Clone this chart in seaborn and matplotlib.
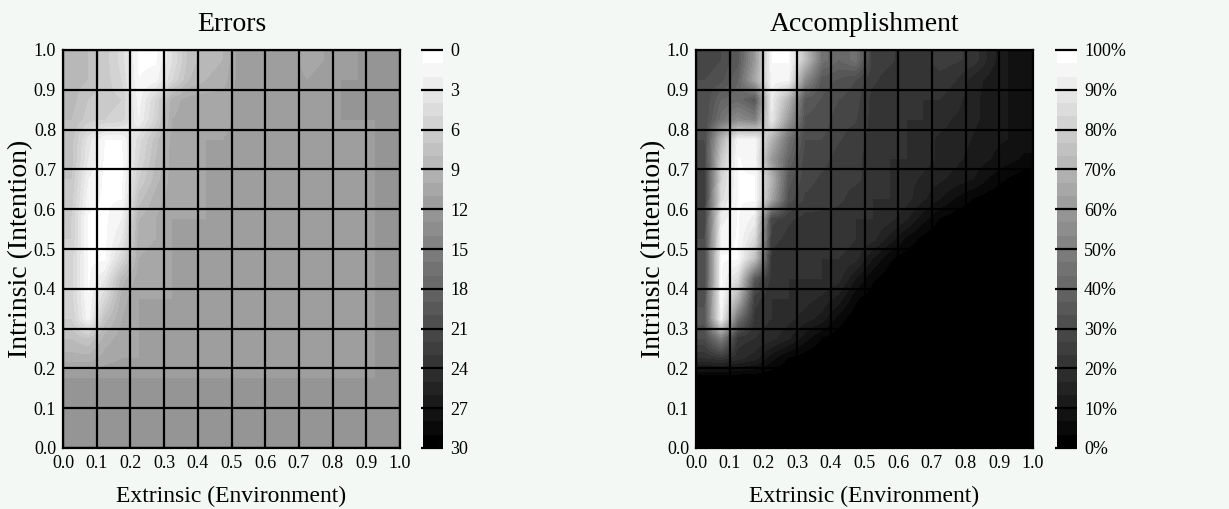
import numpy as np
import matplotlib
matplotlib.use("Agg")
import matplotlib.pyplot as plt
import seaborn as sns

# ---------------- data ----------------
axis_ticks = [0.0, 0.1, 0.2, 0.3, 0.4, 0.5, 0.6, 0.7, 0.8, 0.9, 1.0]
axis_labels = ["0.0", "0.1", "0.2", "0.3", "0.4", "0.5", "0.6", "0.7", "0.8", "0.9", "1.0"]
x_label = "Extrinsic (Environment)"
y_label = "Intrinsic (Intention)"
titles = ["Errors", "Accomplishment"]

err_ticks = [0, 3, 6, 9, 12, 15, 18, 21, 24, 27, 30]
err_tick_labels = ["0", "3", "6", "9", "12", "15", "18", "21", "24", "27", "30"]
acc_ticks = [0, 10, 20, 30, 40, 50, 60, 70, 80, 90, 100]
acc_tick_labels = ["0%", "10%", "20%", "30%", "40%", "50%", "60%", "70%", "80%", "90%", "100%"]

# Errors: rows from intrinsic 1.0 (top) to 0.0 (bottom), 0.05 steps; columns extrinsic 0.0 -> 1.0
errors = np.array([
    [8.5, 8.0, 6.5, 4.5, 0.8, 0.8, 4.0, 7.5, 8.5, 9.0, 11.5, 11.5, 11.5, 11.5, 10.5, 11.0, 11.5, 12.0, 12.5, 12.5],
    [8.5, 8.0, 6.5, 5.0, 1.0, 1.5, 5.0, 8.0, 9.0, 9.5, 11.5, 11.5, 11.5, 11.5, 11.0, 11.5, 12.0, 12.0, 12.5, 12.5],
    [8.5, 7.0, 6.5, 6.0, 1.5, 5.0, 9.5, 10.5, 10.5, 10.5, 11.5, 11.5, 11.5, 11.5, 11.5, 11.5, 12.0, 12.0, 12.0, 12.5],
    [8.0, 6.5, 6.0, 5.5, 2.0, 5.5, 10.0, 10.5, 10.5, 10.5, 11.5, 11.5, 11.5, 11.5, 11.5, 11.5, 12.0, 12.0, 12.0, 12.0],
    [7.5, 3.5, 1.0, 1.0, 4.5, 7.5, 10.5, 10.5, 11.0, 11.0, 11.5, 11.5, 11.5, 11.5, 11.5, 11.5, 11.5, 11.5, 12.0, 12.0],
    [7.5, 3.0, 0.8, 0.8, 5.0, 8.0, 10.5, 10.5, 11.0, 11.0, 11.5, 11.5, 11.5, 11.5, 11.5, 11.5, 11.5, 11.5, 12.0, 12.0],
    [7.0, 2.0, 0.8, 0.8, 6.0, 8.5, 10.5, 10.5, 11.0, 11.0, 11.5, 11.5, 11.5, 11.5, 11.5, 11.5, 11.5, 11.5, 12.0, 12.0],
    [6.5, 1.5, 0.8, 1.0, 7.5, 9.5, 10.5, 10.5, 11.0, 11.0, 11.5, 11.5, 11.5, 11.5, 11.5, 11.5, 11.5, 11.5, 12.0, 12.0],
    [6.0, 0.8, 0.8, 2.0, 9.0, 10.0, 11.0, 11.0, 11.0, 11.0, 11.5, 11.5, 11.0, 11.0, 11.5, 11.5, 11.5, 11.5, 12.0, 12.0],
    [6.0, 0.8, 0.8, 3.0, 9.5, 10.0, 11.0, 11.0, 11.0, 11.0, 11.5, 11.5, 11.0, 11.0, 11.5, 11.5, 11.5, 11.5, 12.0, 12.0],
    [5.5, 0.8, 0.8, 5.0, 10.0, 10.5, 11.0, 11.0, 11.0, 11.0, 11.5, 11.5, 11.5, 11.5, 11.5, 11.5, 11.5, 11.5, 12.0, 12.0],
    [5.5, 0.8, 3.0, 8.5, 10.5, 10.5, 11.0, 11.0, 11.0, 11.0, 11.5, 11.5, 11.5, 11.5, 11.5, 11.5, 11.5, 11.5, 12.0, 12.0],
    [5.5, 1.0, 5.0, 9.5, 11.0, 11.0, 11.0, 11.0, 11.0, 11.0, 11.5, 11.5, 11.5, 11.5, 11.5, 11.5, 11.5, 11.5, 12.0, 12.0],
    [6.0, 1.5, 7.5, 10.0, 11.0, 11.0, 11.0, 11.0, 11.0, 11.0, 11.5, 11.5, 11.5, 11.5, 11.5, 11.5, 11.5, 11.5, 12.0, 12.0],
    [8.0, 7.0, 9.5, 10.5, 11.0, 11.0, 11.0, 11.0, 11.0, 11.0, 11.5, 11.5, 11.5, 11.5, 11.5, 11.5, 11.5, 11.5, 12.0, 12.0],
    [9.5, 9.5, 10.5, 11.0, 11.0, 11.0, 11.0, 11.0, 11.0, 11.0, 11.5, 11.5, 11.5, 11.5, 11.5, 11.5, 11.5, 11.5, 12.0, 12.0],
    [12.0, 12.0, 12.0, 12.0, 12.0, 12.0, 12.0, 12.0, 12.0, 12.0, 12.0, 12.0, 12.0, 12.0, 12.0, 12.0, 12.0, 12.0, 12.0, 12.0],
    [12.0, 12.0, 12.0, 12.0, 12.0, 12.0, 12.0, 12.0, 12.0, 12.0, 12.0, 12.0, 12.0, 12.0, 12.0, 12.0, 12.0, 12.0, 12.0, 12.0],
    [12.0, 12.0, 12.0, 12.0, 12.0, 12.0, 12.0, 12.0, 12.0, 12.0, 12.0, 12.0, 12.0, 12.0, 12.0, 12.0, 12.0, 12.0, 12.0, 12.0],
    [12.0, 12.0, 12.0, 12.0, 12.0, 12.0, 12.0, 12.0, 12.0, 12.0, 12.0, 12.0, 12.0, 12.0, 12.0, 12.0, 12.0, 12.0, 12.0, 12.0],
])

# Accomplishment (%): same layout
accomplishment = np.array([
    [28, 30, 35, 60, 97, 97, 75, 45, 40, 45, 25, 24, 22, 22, 25, 24, 22, 15, 10, 8],
    [30, 32, 40, 65, 95, 95, 55, 35, 33, 30, 24, 22, 20, 22, 22, 20, 15, 12, 10, 8],
    [30, 40, 42, 35, 92, 70, 35, 33, 30, 28, 22, 22, 20, 20, 20, 18, 14, 12, 10, 8],
    [30, 45, 55, 50, 90, 60, 33, 32, 28, 27, 22, 22, 20, 20, 18, 16, 14, 12, 10, 8],
    [30, 70, 95, 95, 70, 45, 30, 30, 27, 25, 22, 20, 20, 18, 16, 15, 13, 11, 10, 8],
    [28, 78, 97, 95, 60, 40, 28, 28, 25, 24, 22, 20, 20, 18, 16, 14, 12, 10, 8, 6],
    [25, 82, 97, 97, 70, 35, 28, 26, 24, 24, 22, 20, 18, 16, 14, 12, 10, 6, 3, 1],
    [25, 85, 97, 97, 65, 32, 26, 25, 24, 22, 20, 20, 18, 14, 10, 6, 3, 1, 0, 0],
    [28, 92, 97, 92, 28, 24, 22, 22, 22, 20, 20, 18, 14, 8, 3, 1, 0, 0, 0, 0],
    [30, 95, 97, 85, 25, 22, 22, 22, 22, 20, 18, 12, 6, 2, 0, 0, 0, 0, 0, 0],
    [30, 97, 97, 75, 22, 20, 22, 20, 20, 18, 10, 4, 1, 0, 0, 0, 0, 0, 0, 0],
    [30, 97, 85, 35, 22, 20, 20, 20, 18, 10, 4, 1, 0, 0, 0, 0, 0, 0, 0, 0],
    [32, 97, 70, 25, 20, 20, 18, 16, 12, 4, 1, 0, 0, 0, 0, 0, 0, 0, 0, 0],
    [35, 95, 45, 22, 20, 18, 15, 12, 5, 1, 0, 0, 0, 0, 0, 0, 0, 0, 0, 0],
    [30, 50, 22, 20, 18, 14, 8, 3, 1, 0, 0, 0, 0, 0, 0, 0, 0, 0, 0, 0],
    [20, 22, 18, 15, 8, 3, 1, 0, 0, 0, 0, 0, 0, 0, 0, 0, 0, 0, 0, 0],
    [0, 0, 0, 0, 0, 0, 0, 0, 0, 0, 0, 0, 0, 0, 0, 0, 0, 0, 0, 0],
    [0, 0, 0, 0, 0, 0, 0, 0, 0, 0, 0, 0, 0, 0, 0, 0, 0, 0, 0, 0],
    [0, 0, 0, 0, 0, 0, 0, 0, 0, 0, 0, 0, 0, 0, 0, 0, 0, 0, 0, 0],
    [0, 0, 0, 0, 0, 0, 0, 0, 0, 0, 0, 0, 0, 0, 0, 0, 0, 0, 0, 0],
], dtype=float)

# ---------------- style ----------------
sns.set_theme(style="white")
plt.rcParams["font.family"] = ["Liberation Serif", "DejaVu Serif"]
BG = "#f4f8f4"

fig = plt.figure(figsize=(12.29, 5.09), dpi=100, facecolor=BG)


def panel(ax_rect, cb_rect, data, cmap, vmin, vmax, cticks, clabels, title, invert_cb):
    ax = fig.add_axes(ax_rect)
    im = ax.imshow(data, cmap=cmap, vmin=vmin, vmax=vmax, extent=[0, 1, 0, 1],
                   origin="upper", interpolation="bilinear", aspect="auto")
    ax.set_xlim(0, 1)
    ax.set_ylim(0, 1)
    ax.set_xticks(axis_ticks)
    ax.set_yticks(axis_ticks)
    ax.set_xticklabels(axis_labels)
    ax.set_yticklabels(axis_labels)
    ax.set_axisbelow(False)
    ax.grid(True, color="black", linewidth=1.6)
    ax.tick_params(length=0, labelsize=13, pad=5, colors="black")
    for s in ax.spines.values():
        s.set_visible(True)
        s.set_color("black")
        s.set_linewidth(1.6)
    ax.set_title(title, fontsize=20, pad=14, color="black")
    ax.set_xlabel(x_label, fontsize=17, labelpad=10, color="black")
    ax.set_ylabel(y_label, fontsize=20, labelpad=0.5, color="black")

    cax = fig.add_axes(cb_rect)
    cb = fig.colorbar(im, cax=cax, ticks=cticks)
    cb.outline.set_visible(False)
    cb.set_ticklabels(clabels)
    if invert_cb:
        cax.invert_yaxis()
    cax.set_axisbelow(False)
    cax.yaxis.set_zorder(10)
    cax.tick_params(direction="in", length=15.5, width=1.6, color="black",
                    labelsize=13, pad=5, labelcolor="black")
    for t in cax.yaxis.get_ticklines():
        t.set_zorder(10)
    return ax


err_cmap = plt.get_cmap("gray_r", 30)
acc_cmap = plt.get_cmap("gray", 30)

panel([63 / 1229, 61 / 509, 337 / 1229, 398 / 509], [423 / 1229, 61 / 509, 20 / 1229, 398 / 509],
      errors, err_cmap, 0, 30, err_ticks, err_tick_labels, titles[0], True)
panel([696 / 1229, 61 / 509, 337 / 1229, 398 / 509], [1057 / 1229, 61 / 509, 20 / 1229, 398 / 509],
      accomplishment, acc_cmap, 0, 100, acc_ticks, acc_tick_labels, titles[1], False)

fig.savefig("out.png", dpi=100, facecolor=BG)
